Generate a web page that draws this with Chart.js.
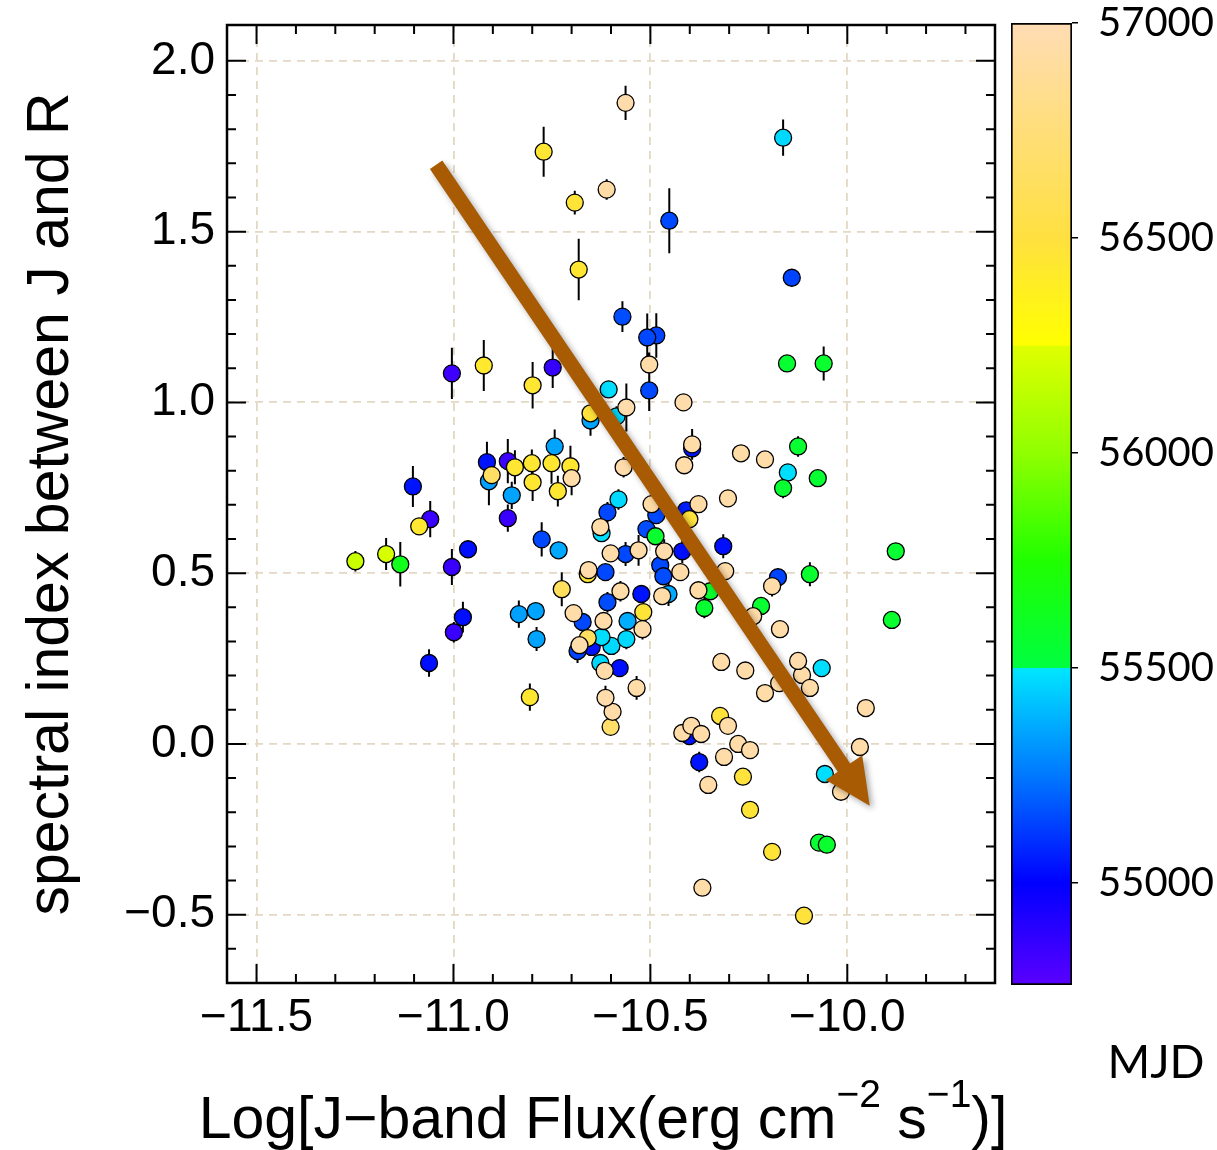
<!DOCTYPE html>
<html>
<head>
<meta charset="utf-8">
<title>Spectral index vs J-band flux</title>
<script src="https://cdn.jsdelivr.net/npm/chart.js@4.4.0/dist/chart.umd.min.js"></script>
<style>
  html, body { margin: 0; padding: 0; background: #fff; }
  #wrap { position: relative; width: 1217px; height: 1150px; }
  #main { position: absolute; left: 0; top: 0; }
  #cbar { position: absolute; left: 1000px; top: 0; }
</style>
</head>
<body>
<div id="wrap">
  <canvas id="main" width="1217" height="1150" style="width:1217px;height:1150px"></canvas>
  <canvas id="cbar" width="217" height="1150" style="width:217px;height:1150px"></canvas>
</div>
<script>
// Log J-band flux (x), spectral index J-R (y), its error and the MJD of each observation
const fluxLog = [
  -10.563, -10.771, -10.611, -10.692, -10.452, -10.163, -10.682, -10.141, -10.571, -10.508,
  -10.485, -10.503, -10.503, -10.153, -10.060, -10.416, -11.004, -10.923, -10.799, -10.748,
  -10.606, -10.652, -10.652, -10.586, -10.561, -10.394, -10.394, -10.414, -10.270, -10.209,
  -10.125, -10.151, -10.163, -10.075, -10.303, -10.378, -10.409, -10.401, -10.315, -10.568,
  -10.581, -10.609, -10.627, -10.624, -10.497, -10.485, -10.510, -10.487,
  -11.103, -11.059, -11.087, -11.249, -11.171, -11.135, -11.004, -10.963, -10.976, -10.999,
  -11.062, -10.806, -10.915, -10.910, -10.903, -10.862, -10.844, -10.801, -10.799, -10.852,
  -10.862, -10.743, -10.751, -10.735, -10.703, -10.700, -10.776, -10.733, -10.725, -10.834,
  -10.791, -10.789, -10.601, -10.563, -10.530, -10.465, -10.419, -10.657, -10.659, -10.614,
  -10.576, -10.523, -10.475, -10.467, -10.424, -10.454, -10.470, -10.378, -10.609, -10.518,
  -10.695, -10.672, -10.619, -10.558, -10.520, -10.659, -10.624, -10.599, -10.561, -10.680,
  -10.685, -10.649, -10.627, -10.578, -10.616, -10.535, -10.614, -10.596, -10.601, -10.310,
  -10.348, -10.363, -10.176, -10.191, -10.095, -10.219, -10.239, -10.171, -9.877, -9.887,
  -10.320, -10.259, -10.125, -10.115, -10.095, -10.065, -10.173, -10.209, -9.953, -10.323,
  -10.303, -10.419, -10.396, -10.371, -10.401, -10.277, -10.247, -10.313, -10.376, -10.265,
  -10.353, -10.247, -9.968, -10.057, -10.016, -10.072, -10.052, -10.191, -10.368, -10.110
];
const specIndex = [
  1.877, 1.734, 1.623, 1.585, 1.532, 1.775, 1.389, 1.365, 1.251, 1.190,
  1.196, 1.111, 1.035, 1.114, 1.114, 1.000, 1.085, 1.108, 1.050, 1.102,
  1.038, 0.968, 0.947, 0.959, 0.985, 0.877, 0.865, 0.816, 0.851, 0.833,
  0.871, 0.795, 0.749, 0.778, 0.719, 0.702, 0.684, 0.658, 0.579, 0.810,
  0.716, 0.678, 0.635, 0.617, 0.702, 0.670, 0.629, 0.608,
  0.754, 0.658, 0.637, 0.535, 0.556, 0.526, 0.518, 0.570, 0.371, 0.327,
  0.237, 0.137, 0.825, 0.769, 0.787, 0.828, 0.810, 0.822, 0.766, 0.728,
  0.661, 0.871, 0.822, 0.740, 0.813, 0.778, 0.599, 0.567, 0.453, 0.380,
  0.389, 0.307, 0.558, 0.556, 0.567, 0.564, 0.564, 0.509, 0.497, 0.503,
  0.447, 0.439, 0.523, 0.491, 0.503, 0.439, 0.433, 0.450, 0.415, 0.386,
  0.383, 0.357, 0.360, 0.360, 0.336, 0.310, 0.313, 0.287, 0.307, 0.289,
  0.272, 0.284, 0.237, 0.222, 0.214, 0.164, 0.135, 0.094, 0.050, 0.506,
  0.447, 0.398, 0.488, 0.462, 0.497, 0.404, 0.374, 0.336, 0.564, 0.363,
  0.240, 0.215, 0.243, 0.202, 0.164, 0.222, 0.178, 0.149, 0.105, 0.082,
  0.053, 0.032, 0.053, 0.029, 0.023, 0.000, -0.018, -0.038, -0.053, -0.096,
  -0.120, -0.193, -0.009, -0.088, -0.140, -0.289, -0.295, -0.316, -0.421, -0.503
];
const specErr = [
  0.050, 0.073, 0.030, 0.035, 0.095, 0.053, 0.090, 0.025, 0.045, 0.070,
  0.065, 0.035, 0.060, 0.020, 0.050, 0.020, 0.075, 0.075, 0.068, 0.060,
  0.025, 0.030, 0.045, 0.030, 0.070, 0.045, 0.020, 0.020, 0.020, 0.020,
  0.030, 0.020, 0.030, 0.020, 0.020, 0.020, 0.020, 0.020, 0.035, 0.030,
  0.030, 0.030, 0.020, 0.025, 0.020, 0.020, 0.020, 0.020,
  0.060, 0.053, 0.020, 0.030, 0.047, 0.065, 0.053, 0.020, 0.045, 0.030,
  0.040, 0.040, 0.060, 0.070, 0.020, 0.065, 0.050, 0.040, 0.055, 0.040,
  0.040, 0.050, 0.060, 0.045, 0.060, 0.050, 0.050, 0.020, 0.050, 0.040,
  0.020, 0.035, 0.020, 0.035, 0.045, 0.035, 0.035, 0.020, 0.020, 0.020,
  0.030, 0.020, 0.020, 0.020, 0.020, 0.035, 0.020, 0.020, 0.030, 0.020,
  0.020, 0.020, 0.020, 0.020, 0.030, 0.020, 0.020, 0.020, 0.030, 0.020,
  0.035, 0.020, 0.020, 0.020, 0.020, 0.035, 0.035, 0.020, 0.020, 0.020,
  0.020, 0.030, 0.025, 0.030, 0.035, 0.020, 0.020, 0.020, 0.020, 0.020,
  0.020, 0.020, 0.020, 0.020, 0.020, 0.020, 0.020, 0.020, 0.020, 0.020,
  0.020, 0.020, 0.020, 0.020, 0.020, 0.020, 0.020, 0.020, 0.030, 0.020,
  0.020, 0.020, 0.020, 0.020, 0.020, 0.020, 0.020, 0.020, 0.020, 0.020
];
const mjd = [
  56960, 56450, 56940, 56470, 55150, 55470, 56440, 55140, 55160, 55150,
  55140, 56950, 55150, 55560, 55570, 56960, 54840, 56430, 56450, 54860,
  55480, 56480, 55350, 55470, 56960, 56950, 55040, 56950, 56940, 56950,
  55560, 55480, 55560, 55560, 56950, 56940, 55060, 56480, 55030, 56960,
  55470, 55150, 56950, 55480, 56940, 55150, 55160, 55570,
  55040, 54850, 56440, 56180, 56220, 55640, 54850, 55030, 55030, 54850,
  55030, 56440, 55040, 55340, 56650, 54840, 56450, 56450, 56440, 55350,
  54850, 55350, 56440, 56450, 56440, 56950, 55150, 55360, 56620, 55340,
  55350, 55350, 56950, 55150, 56950, 56960, 55030, 56960, 56450, 55150,
  56950, 55040, 55150, 55160, 56950, 55360, 56950, 56940, 55160, 56470,
  56950, 55150, 56950, 55370, 56950, 56640, 55480, 55470, 55470, 56960,
  55140, 55040, 55470, 55030, 56950, 56950, 56960, 56950, 56680, 56950,
  55570, 55560, 55140, 56950, 55570, 55560, 56950, 56950, 55560, 55570,
  56950, 56950, 56960, 56950, 56950, 55480, 56950, 56950, 56950, 56480,
  56950, 56950, 56950, 56950, 55040, 56950, 56950, 56950, 55040, 56480,
  56950, 56470, 56950, 55480, 56950, 55560, 55570, 56470, 56950, 56480
];

// axes
const xRange = [-11.575, -9.625];
const yRange = [-0.70, 2.105];
const xMajorTicks = [-11.5, -11.0, -10.5, -10.0];
const xMinorTicks = [-11.5, -11.4, -11.3, -11.2, -11.1, -11.0, -10.9, -10.8, -10.7, -10.6,
                     -10.5, -10.4, -10.3, -10.2, -10.1, -10.0, -9.9, -9.8, -9.7];
const yMajorTicks = [-0.5, 0.0, 0.5, 1.0, 1.5, 2.0];
const yMinorTicks = [-0.6, -0.5, -0.4, -0.3, -0.2, -0.1, 0.0, 0.1, 0.2, 0.3, 0.4, 0.5, 0.6, 0.7,
                     0.8, 0.9, 1.0, 1.1, 1.2, 1.3, 1.4, 1.5, 1.6, 1.7, 1.8, 1.9, 2.0];

// colour bar
const cbarRange = [54762, 57000];
const cbarTicks = [55000, 55500, 56000, 56500, 57000];
const cmapStops = [54762, 55000, 55250, 55499, 55500, 55750, 56000, 56249, 56250, 56500, 57000];
const cmapColors = [
  [90, 0, 255], [0, 0, 255], [0, 120, 255], [0, 230, 255], [0, 255, 64], [32, 255, 0],
  [144, 255, 0], [224, 255, 0], [255, 255, 0], [255, 224, 64], [255, 220, 180]
];

// trend arrow, in data units
const arrowFrom = [-11.044, 1.696];
const arrowTo = [-9.943, -0.181];

const FONT = "'Liberation Sans', Arial, Helvetica, sans-serif";
const CB_FONT = "Lato, 'Open Sans', sans-serif";

function rgb(c) { return "rgb(" + c.join(",") + ")"; }

function mjdColor(v) {
  if (v <= cmapStops[0]) return rgb(cmapColors[0]);
  for (let k = 1; k < cmapStops.length; k++) {
    if (v <= cmapStops[k]) {
      const t = (v - cmapStops[k - 1]) / (cmapStops[k] - cmapStops[k - 1]);
      const a = cmapColors[k - 1], b = cmapColors[k];
      return rgb(a.map((c, j) => Math.round(c + (b[j] - c) * t)));
    }
  }
  return rgb(cmapColors[cmapColors.length - 1]);
}

function fmt(v) {
  return (v < 0 ? "\u2212" : "") + Math.abs(v).toFixed(1);
}

// keep the chart area where the layout padding puts it
function noLabelPadding(s) {
  s.paddingTop = 0; s.paddingBottom = 0; s.paddingLeft = 0; s.paddingRight = 0;
}

// later observations are drawn on top
const order = mjd.map((_, i) => i).sort((a, b) => mjd[a] - mjd[b]);

const errorBars = {
  id: "errorBars",
  beforeDatasetsDraw(chart) {
    const { ctx, scales: { x, y } } = chart;
    ctx.save();
    ctx.strokeStyle = "#000";
    ctx.lineWidth = 2;
    ctx.beginPath();
    order.forEach(i => {
      const px = x.getPixelForValue(fluxLog[i]);
      ctx.moveTo(px, y.getPixelForValue(specIndex[i] - specErr[i]));
      ctx.lineTo(px, y.getPixelForValue(specIndex[i] + specErr[i]));
    });
    ctx.stroke();
    ctx.restore();
  }
};

const trendArrow = {
  id: "trendArrow",
  afterDatasetsDraw(chart) {
    const { ctx, scales: { x, y } } = chart;
    const x0 = x.getPixelForValue(arrowFrom[0]), y0 = y.getPixelForValue(arrowFrom[1]);
    const x1 = x.getPixelForValue(arrowTo[0]), y1 = y.getPixelForValue(arrowTo[1]);
    const len = Math.hypot(x1 - x0, y1 - y0);
    const ux = (x1 - x0) / len, uy = (y1 - y0) / len;
    const headLen = 46, headHalf = 22, shaft = 15;
    const bx = x1 - ux * headLen, by = y1 - uy * headLen;
    ctx.save();
    ctx.shadowColor = "rgba(0,0,0,0.35)";
    ctx.shadowBlur = 6;
    ctx.shadowOffsetX = 3;
    ctx.shadowOffsetY = 3;
    ctx.fillStyle = "#a85b02";
    ctx.beginPath();
    ctx.moveTo(x0 - uy * shaft / 2, y0 + ux * shaft / 2);
    ctx.lineTo(bx - uy * shaft / 2, by + ux * shaft / 2);
    ctx.lineTo(bx - uy * headHalf, by + ux * headHalf);
    ctx.lineTo(x1, y1);
    ctx.lineTo(bx + uy * headHalf, by - ux * headHalf);
    ctx.lineTo(bx + uy * shaft / 2, by - ux * shaft / 2);
    ctx.lineTo(x0 + uy * shaft / 2, y0 - ux * shaft / 2);
    ctx.closePath();
    ctx.fill();
    ctx.restore();
  }
};

const frameAndTitles = {
  id: "frameAndTitles",
  afterDraw(chart) {
    const { ctx, chartArea: a, scales: { x, y } } = chart;
    ctx.save();
    ctx.strokeStyle = "#000";
    ctx.lineWidth = 2;
    ctx.beginPath();
    const tick = (vals, len) => {
      vals.forEach(v => {
        const px = x.getPixelForValue(v);
        ctx.moveTo(px, a.bottom); ctx.lineTo(px, a.bottom - len);
        ctx.moveTo(px, a.top); ctx.lineTo(px, a.top + len);
      });
    };
    const ytick = (vals, len) => {
      vals.forEach(v => {
        const py = y.getPixelForValue(v);
        ctx.moveTo(a.left, py); ctx.lineTo(a.left + len, py);
        ctx.moveTo(a.right, py); ctx.lineTo(a.right - len, py);
      });
    };
    tick(xMinorTicks, 9);
    tick(xMajorTicks, 19);
    ytick(yMinorTicks, 9);
    ytick(yMajorTicks, 19);
    ctx.stroke();
    ctx.lineWidth = 2.5;
    ctx.strokeRect(a.left, a.top, a.right - a.left, a.bottom - a.top);

    // y title
    ctx.fillStyle = "#000";
    ctx.font = "59px " + FONT;
    ctx.textAlign = "center";
    ctx.textBaseline = "middle";
    ctx.save();
    ctx.translate(52, (a.top + a.bottom) / 2);
    ctx.rotate(-Math.PI / 2);
    ctx.fillText("spectral index between J and R", 0, 0);
    ctx.restore();

    // x title with superscripts
    const parts = [
      ["Log[J\u2212band Flux(erg cm", false], ["\u22122", true], [" s", false],
      ["\u22121", true], [")]", false]
    ];
    const big = "59px " + FONT, small = "39px " + FONT;
    let total = 0;
    parts.forEach(p => { ctx.font = p[1] ? small : big; total += ctx.measureText(p[0]).width; });
    let cx = 603 - total / 2;
    const base = 1138;
    ctx.textAlign = "left";
    ctx.textBaseline = "alphabetic";
    parts.forEach(p => {
      ctx.font = p[1] ? small : big;
      ctx.fillText(p[0], cx, p[1] ? base - 31 : base);
      cx += ctx.measureText(p[0]).width;
    });
    ctx.restore();
  }
};

new Chart(document.getElementById("main"), {
  type: "scatter",
  data: {
    datasets: [{
      data: order.map(i => ({ x: fluxLog[i], y: specIndex[i] })),
      pointBackgroundColor: order.map(i => mjdColor(mjd[i])),
      pointBorderColor: "#000",
      pointBorderWidth: 1.3,
      pointRadius: 8.5,
      pointHoverRadius: 8.5
    }]
  },
  options: {
    responsive: false,
    animation: false,
    events: [],
    layout: { padding: { left: 0, top: 25, right: 222, bottom: 0 } },
    plugins: { legend: { display: false }, tooltip: { enabled: false } },
    scales: {
      x: {
        type: "linear",
        min: xRange[0],
        max: xRange[1],
        afterBuildTicks: s => { s.ticks = xMajorTicks.map(v => ({ value: v })); },
        afterFit: s => { s.height = 167; noLabelPadding(s); },
        grid: { color: "#e3d8c4", lineWidth: 1.8, drawTicks: false },
        border: { display: false, dash: [8, 6] },
        ticks: {
          font: { family: FONT, size: 46 }, color: "#000", padding: 8,
          maxRotation: 0, autoSkip: false, callback: v => fmt(v)
        }
      },
      y: {
        type: "linear",
        min: yRange[0],
        max: yRange[1],
        afterBuildTicks: s => { s.ticks = yMajorTicks.map(v => ({ value: v })); },
        afterFit: s => { s.width = 227; noLabelPadding(s); },
        grid: { color: "#e3d8c4", lineWidth: 1.8, drawTicks: false },
        border: { display: false, dash: [8, 6] },
        ticks: {
          font: { family: FONT, size: 46 }, color: "#000", padding: 12,
          autoSkip: false, callback: v => fmt(v)
        }
      }
    }
  },
  plugins: [errorBars, trendArrow, frameAndTitles]
});

// colour bar
const cbarTitle = {
  id: "cbarTitle",
  afterDraw(chart) {
    const { ctx } = chart;
    ctx.save();
    ctx.fillStyle = "#000";
    ctx.font = "46px " + CB_FONT;
    ctx.textAlign = "center";
    ctx.textBaseline = "middle";
    ctx.fillText("MJD", 156, 1063);
    ctx.restore();
  }
};

new Chart(document.getElementById("cbar"), {
  type: "bar",
  data: {
    labels: [""],
    datasets: [{
      data: [cbarRange],
      backgroundColor: c => {
        const chart = c.chart, ys = chart.scales.y;
        if (!ys || !chart.chartArea) return "#fff";
        const lo = cmapStops[0], hi = cmapStops[cmapStops.length - 1];
        const g = chart.ctx.createLinearGradient(0, ys.getPixelForValue(lo), 0, ys.getPixelForValue(hi));
        cmapStops.forEach((v, k) => g.addColorStop((v - lo) / (hi - lo), rgb(cmapColors[k])));
        return g;
      },
      borderColor: "#000",
      borderWidth: 2,
      borderSkipped: false,
      barPercentage: 1,
      categoryPercentage: 1
    }]
  },
  options: {
    responsive: false,
    animation: false,
    events: [],
    layout: { padding: { left: 11, top: 23, right: 0, bottom: 165 } },
    plugins: { legend: { display: false }, tooltip: { enabled: false } },
    scales: {
      x: { display: false },
      y: {
        position: "right",
        min: cbarRange[0],
        max: cbarRange[1],
        afterBuildTicks: s => { s.ticks = cbarTicks.map(v => ({ value: v })); },
        afterFit: s => { s.width = 145; noLabelPadding(s); },
        grid: { drawOnChartArea: false, drawTicks: true, tickLength: 6, color: "#000", lineWidth: 1.5 },
        border: { display: false },
        ticks: { font: { family: CB_FONT, size: 40 }, color: "#000", padding: 20, callback: v => String(v) }
      }
    }
  },
  plugins: [cbarTitle]
});
</script>
</body>
</html>
